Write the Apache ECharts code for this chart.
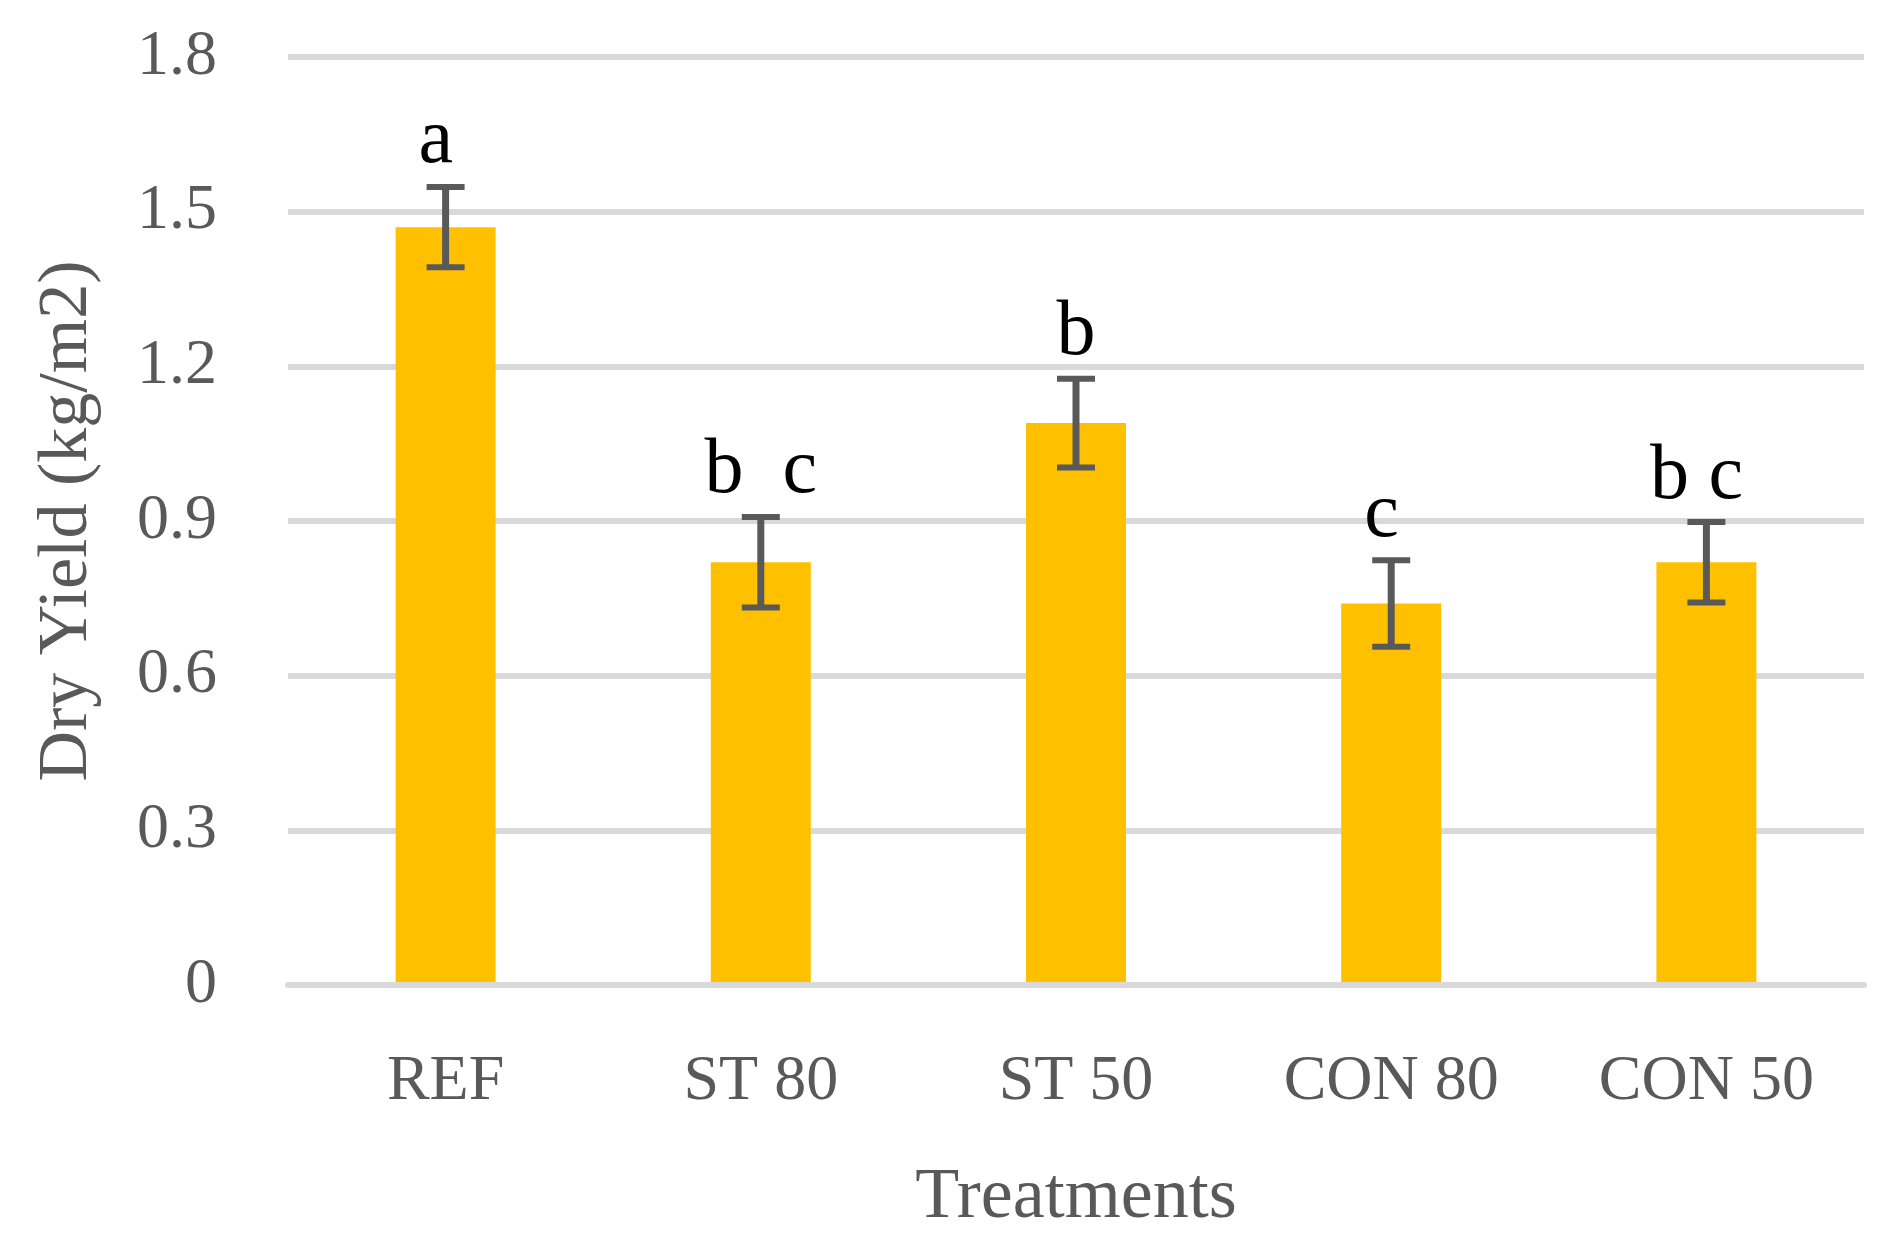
<!DOCTYPE html>
<html>
<head>
<meta charset="utf-8">
<script src="https://cdn.jsdelivr.net/npm/echarts@6/dist/echarts.min.js"></script>
<style>
html,body{margin:0;padding:0;background:#fff;}
#chart{width:1899px;height:1253px;}
</style>
</head>
<body>
<div id="chart"></div>
<script>
const categories = ['REF', 'ST 80', 'ST 50', 'CON 80', 'CON 50'];
const dryYield = [1.47, 0.82, 1.09, 0.74, 0.82];
const yieldError = [0.078, 0.088, 0.086, 0.084, 0.078];
const groupLetters = ['a ', 'b  c', 'b', 'c ', 'b c '];
const yTicks = { min: 0, max: 1.8, interval: 0.3 };

const FONT = '"Liberation Serif", "Times New Roman", serif';
const chart = echarts.init(document.getElementById('chart'));

const errData = dryYield.map((v, i) => [i, v + yieldError[i], v - yieldError[i]]);

chart.setOption({
  animation: false,
  backgroundColor: '#ffffff',
  grid: { left: 288, right: 35, top: 57, bottom: 268 },
  xAxis: {
    type: 'category',
    data: categories,
    z: 10,
    axisLine: { show: true, lineStyle: { color: '#d9d9d9', width: 6 } },
    axisTick: { show: false },
    axisLabel: { color: '#595959', fontFamily: FONT, fontSize: 64, margin: 65 },
    name: 'Treatments',
    nameLocation: 'middle',
    nameGap: 177,
    nameTextStyle: { color: '#595959', fontFamily: FONT, fontSize: 72 }
  },
  yAxis: {
    type: 'value',
    min: yTicks.min,
    max: yTicks.max,
    interval: yTicks.interval,
    axisLine: { show: false },
    axisTick: { show: false },
    splitLine: { show: true, lineStyle: { color: '#d9d9d9', width: 6 } },
    axisLabel: {
      color: '#595959', fontFamily: FONT, fontSize: 64, margin: 71,
      formatter: v => (Math.abs(v) < 1e-9 ? '0' : v.toFixed(1))
    },
    name: 'Dry Yield (kg/m2)',
    nameLocation: 'middle',
    nameGap: 185,
    nameTextStyle: { color: '#595959', fontFamily: FONT, fontSize: 70 }
  },
  series: [
    {
      type: 'bar',
      data: dryYield,
      barWidth: 100,
      itemStyle: { color: '#FFC000' },
      z: 2
    },
    {
      type: 'custom',
      z: 5,
      data: errData,
      renderItem: function (params, api) {
        const x = api.value(0);
        const hi = api.coord([x, api.value(1)]);
        const lo = api.coord([x, api.value(2)]);
        const cx = hi[0];
        const half = 19;
        const stroke = '#595959';
        return {
          type: 'group',
          children: [
            { type: 'line', shape: { x1: cx, y1: hi[1], x2: cx, y2: lo[1] }, style: { stroke: stroke, lineWidth: 7 } },
            { type: 'line', shape: { x1: cx - half, y1: hi[1], x2: cx + half, y2: hi[1] }, style: { stroke: stroke, lineWidth: 6 } },
            { type: 'line', shape: { x1: cx - half, y1: lo[1], x2: cx + half, y2: lo[1] }, style: { stroke: stroke, lineWidth: 6 } },
            {
              type: 'text',
              x: cx,
              y: hi[1] - 6,
              style: {
                text: groupLetters[params.dataIndex],
                fontFamily: FONT,
                fontSize: 78,
                fill: '#000000',
                align: 'center',
                verticalAlign: 'bottom'
              }
            }
          ]
        };
      }
    }
  ]
});
</script>
</body>
</html>
